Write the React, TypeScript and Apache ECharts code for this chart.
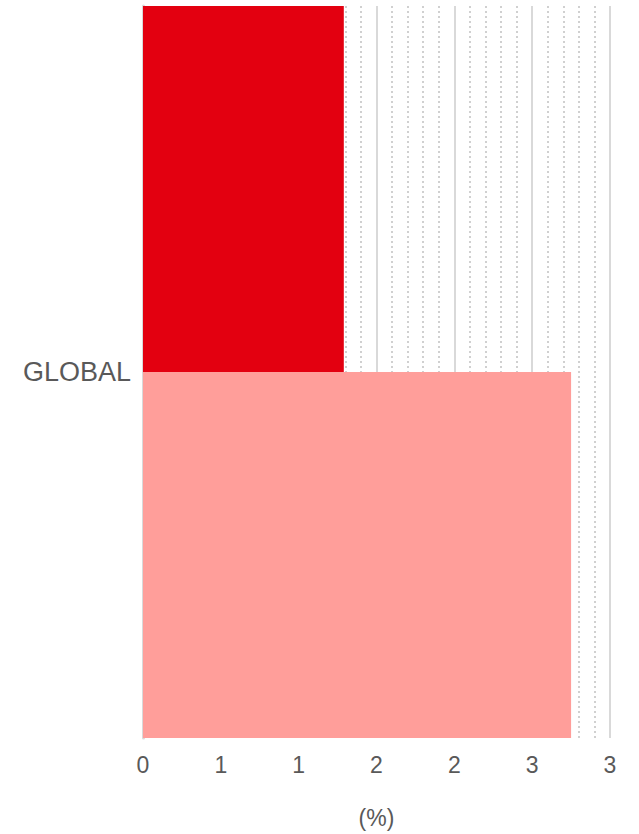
import React, { useEffect, useRef } from "react";
import * as echarts from "echarts";

const categories = ["GLOBAL"];
const seriesNames = ["Series A", "Series B"];
const redValues = [1.29];
const pinkValues = [2.75];
const axisName = "(%)";

export default function App() {
  const ref = useRef<HTMLDivElement>(null);
  useEffect(() => {
    if (!ref.current) return;
    const chart = echarts.init(ref.current, undefined, { renderer: "svg" });
    const font = "Arial, 'Liberation Sans', sans-serif";
    chart.setOption({
      animation: false,
      grid: { left: 143, right: 29, top: 6, bottom: 93, containLabel: false },
      xAxis: {
        type: "value",
        min: 0,
        max: 3,
        interval: 0.5,
        name: axisName,
        nameLocation: "middle",
        nameGap: 68,
        nameTextStyle: { fontSize: 23, color: "#595959", fontFamily: font },
        axisLine: { show: false },
        axisTick: { show: false },
        axisLabel: {
          formatter: (v: number) => String(Math.round(v)),
          fontSize: 23,
          color: "#595959",
          fontFamily: font,
          margin: 15,
        },
        splitLine: { show: true, lineStyle: { color: "#d9d9d9", width: 2, type: "solid" } },
        minorTick: { show: false, splitNumber: 5 },
        minorSplitLine: { show: true, lineStyle: { color: "#d0d0d0", width: 2, type: [2, 3] } },
      },
      yAxis: {
        type: "category",
        data: categories,
        inverse: true,
        axisLine: { show: true, lineStyle: { color: "#d9d9d9", width: 3 } },
        axisTick: { show: false },
        axisLabel: { fontSize: 27, color: "#595959", fontFamily: font, margin: 12 },
        splitLine: { show: false },
      },
      series: [
        {
          name: seriesNames[0],
          type: "bar",
          data: redValues,
          itemStyle: { color: "#E30010" },
          barGap: "0%",
          barCategoryGap: "0%",
        },
        {
          name: seriesNames[1],
          type: "bar",
          data: pinkValues,
          itemStyle: { color: "#FF9E9A" },
          barGap: "0%",
          barCategoryGap: "0%",
        },
      ],
    });
    return () => chart.dispose();
  }, []);
  return (
    <div
      ref={ref}
      style={{ position: "fixed", left: 0, top: 0, width: 639, height: 834, background: "#fff" }}
    />
  );
}
